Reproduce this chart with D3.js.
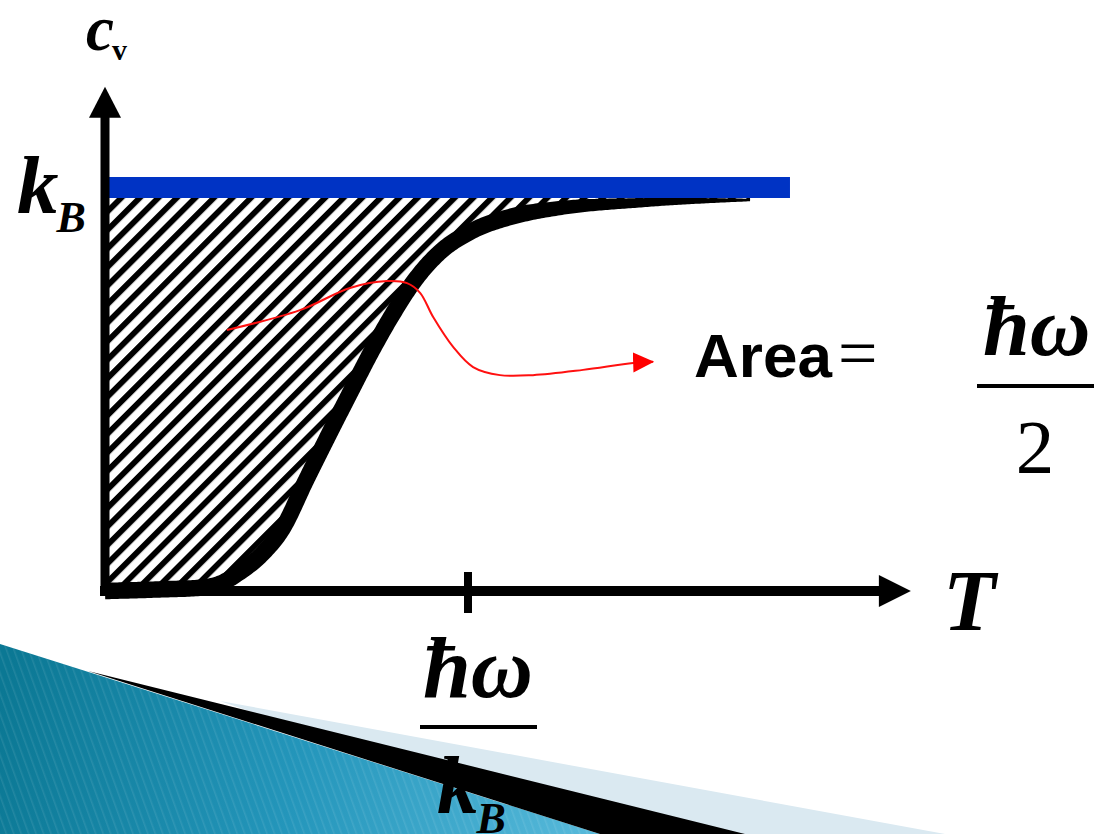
<!DOCTYPE html>
<html><head><meta charset="utf-8">
<script src="https://cdn.jsdelivr.net/npm/d3@7"></script>
<style>html,body{margin:0;padding:0;background:#fff;overflow:hidden}</style>
</head><body>
<svg id="chart" width="1094" height="834"></svg>
<script>
// Einstein heat capacity c_v(T); T in units of ħω/k_B, c_v in units of k_B
const temperature  = [0, 0.152, 0.262, 0.317, 0.370, 0.433, 0.488, 0.554, 0.620, 0.675, 0.736, 0.791, 0.854, 0.923, 1.006, 1.116, 1.253, 1.474, 1.777];
const heatCapacity = [0, 0.004, 0.008, 0.018, 0.046, 0.092, 0.153, 0.275, 0.394, 0.491, 0.597, 0.684, 0.771, 0.840, 0.890, 0.927, 0.949, 0.962, 0.969];

// classical (Dulong–Petit) level k_B and its extent along T
const classicalLevel = [1];
const classicalSpan = [0, 1.887];

// axis extents and ticks
const xAxisMax = 2.22;
const yAxisMax = 1.25;
const xTickValues = [1];

// pointer from the shaded area to its value
const pointerT  = [0.336, 0.537, 0.675, 0.777, 0.832, 0.868, 0.904, 0.959, 1.014, 1.088, 1.179, 1.317, 1.455, 1.510];
const pointerCv = [0.647, 0.696, 0.751, 0.768, 0.763, 0.739, 0.679, 0.605, 0.555, 0.535, 0.535, 0.548, 0.565, 0.568];

const svg = d3.select("#chart");
const x = d3.scaleLinear().domain([0, 1]).range([105, 468]);
const y = d3.scaleLinear().domain([0, 1]).range([591, 187.5]);

const defs = svg.append("defs");

// diagonal hatching for the area between c_v and k_B
const hatch = defs.append("pattern")
  .attr("id", "hatch").attr("patternUnits", "userSpaceOnUse")
  .attr("width", 13.1).attr("height", 13.1)
  .attr("patternTransform", "rotate(45)");
hatch.append("rect").attr("width", 13.1).attr("height", 13.1).attr("fill", "#fff");
hatch.append("rect").attr("x", 0).attr("width", 5.8).attr("height", 13.1).attr("fill", "#000");

// slide decoration: blue wedge at the bottom
const grad = defs.append("linearGradient").attr("id", "wedgeGrad")
  .attr("gradientUnits", "userSpaceOnUse").attr("x1", 0).attr("y1", 700).attr("x2", 600).attr("y2", 834);
grad.append("stop").attr("offset", 0).attr("stop-color", "#0b7894");
grad.append("stop").attr("offset", 0.5).attr("stop-color", "#2496bb");
grad.append("stop").attr("offset", 1).attr("stop-color", "#58badb");
const stripes = defs.append("pattern")
  .attr("id", "wedgeStripes").attr("patternUnits", "userSpaceOnUse")
  .attr("width", 7).attr("height", 7).attr("patternTransform", "rotate(-20)");
stripes.append("rect").attr("width", 1.5).attr("height", 7).attr("fill", "#ffffff").attr("opacity", 0.09);

const deco = svg.append("g");
deco.append("polygon").attr("points", "220,701 945,834 600,834").attr("fill", "#dae9f1");
deco.append("polygon").attr("points", "0,644 600,834 0,834").attr("fill", "url(#wedgeGrad)");
deco.append("polygon").attr("points", "0,644 600,834 0,834").attr("fill", "url(#wedgeStripes)");
deco.append("polygon").attr("points", "88,671 745,834 600,834").attr("fill", "#000");

const data = temperature.map((t, i) => ({ t, cv: heatCapacity[i] }));

// hatched region between the curve and the classical level
svg.append("path")
  .datum(data)
  .attr("fill", "url(#hatch)")
  .attr("d", d3.area()
    .x(d => x(d.t))
    .y0(y(classicalLevel[0]))
    .y1(d => y(d.cv))
    .curve(d3.curveMonotoneX));

// c_v curve drawn as a brush stroke that thins out toward high T
const centre = d3.line().x(d => x(d.t)).y(d => y(d.cv)).curve(d3.curveMonotoneX)(data);
const probe = svg.append("path").attr("d", centre).attr("fill", "none").attr("stroke", "none");
const node = probe.node();
const total = node.getTotalLength();
const N = 400;
const pts = d3.range(N + 1).map(i => node.getPointAtLength(total * i / N));
probe.remove();
const tEnd = temperature[temperature.length - 1];
const widthAt = t => t < 1.15 ? 16.5 : 16.5 - (t - 1.15) / (tEnd - 1.15) * 14;
const left = [], right = [];
pts.forEach((p, i) => {
  const a = pts[Math.max(0, i - 1)], b = pts[Math.min(N, i + 1)];
  let dx = b.x - a.x, dy = b.y - a.y;
  const len = Math.hypot(dx, dy) || 1;
  dx /= len; dy /= len;
  const w = widthAt(x.invert(p.x)) / 2;
  left.push([p.x - dy * w, p.y + dx * w]);
  right.push([p.x + dy * w, p.y - dx * w]);
});
svg.append("path")
  .attr("d", d3.line().curve(d3.curveLinearClosed)(left.concat(right.reverse())))
  .attr("fill", "#000");

// classical k_B level
svg.append("line")
  .attr("x1", x(classicalSpan[0])).attr("x2", x(classicalSpan[1]))
  .attr("y1", y(classicalLevel[0])).attr("y2", y(classicalLevel[0]))
  .attr("stroke", "#0033c4").attr("stroke-width", 21);

// axes with arrowheads
const axes = svg.append("g").attr("fill", "#000").attr("stroke", "#000");
axes.append("line")
  .attr("x1", x(0)).attr("x2", x(0))
  .attr("y1", y(0) + 4).attr("y2", y(yAxisMax) + 28)
  .attr("stroke-width", 9);
axes.append("polygon").attr("stroke", "none")
  .attr("points", [[x(0), y(yAxisMax)], [x(0) - 16, y(yAxisMax) + 31], [x(0) + 16, y(yAxisMax) + 31]].join(" "));
axes.append("line")
  .attr("x1", x(0) - 5).attr("x2", x(xAxisMax) - 30)
  .attr("y1", y(0)).attr("y2", y(0))
  .attr("stroke-width", 10);
axes.append("polygon").attr("stroke", "none")
  .attr("points", [[x(xAxisMax), y(0)], [x(xAxisMax) - 32, y(0) - 16], [x(xAxisMax) - 32, y(0) + 16]].join(" "));
axes.selectAll("line.tick").data(xTickValues).join("line")
  .attr("class", "tick")
  .attr("x1", d => x(d)).attr("x2", d => x(d))
  .attr("y1", y(0) - 19).attr("y2", y(0) + 22)
  .attr("stroke-width", 8);

// red pointer with arrowhead
defs.append("marker").attr("id", "redHead")
  .attr("markerUnits", "userSpaceOnUse").attr("markerWidth", 22).attr("markerHeight", 22)
  .attr("viewBox", "0 0 22 22").attr("refX", 20).attr("refY", 11).attr("orient", "auto")
  .append("path").attr("d", "M0,1 L21,11 L0,21 Z").attr("fill", "#ff0000");
const pointer = pointerT.map((t, i) => ({ t, cv: pointerCv[i] }));
svg.append("path")
  .datum(pointer)
  .attr("fill", "none").attr("stroke", "#ff1010").attr("stroke-width", 2)
  .attr("marker-end", "url(#redHead)")
  .attr("d", d3.line().x(d => x(d.t)).y(d => y(d.cv)).curve(d3.curveCatmullRom.alpha(0.5)));

// labels
const serif = "'Liberation Serif', 'Times New Roman', serif";
const math = (sel) => sel.attr("font-family", serif).attr("font-weight", "bold").attr("font-style", "italic").attr("fill", "#000");

// c_v axis title
const cv = svg.append("text").attr("x", 86).attr("y", 50).call(math).attr("font-size", 63);
cv.append("tspan").text("c");
cv.append("tspan").attr("font-size", 30).attr("font-style", "normal").attr("dx", -2).attr("dy", 10).text("v");

// k_B on the vertical axis
const kb = svg.append("text").attr("x", 17).attr("y", 213).call(math).attr("font-size", 83);
kb.append("tspan").text("k");
kb.append("tspan").attr("font-size", 44).attr("dx", -2).attr("dy", 19).text("B");

// T axis title
svg.append("text").attr("x", 943).attr("y", 630).call(math).attr("font-size", 86).text("T");

// tick label ħω / k_B
const tickLabel = svg.append("g").selectAll("g").data(xTickValues).join("g");
tickLabel.append("text").attr("x", d => x(d) + 10).attr("y", 697).attr("text-anchor", "middle")
  .call(math).attr("font-size", 86).text("ħω");
tickLabel.append("rect").attr("x", d => x(d) - 48).attr("y", 725).attr("width", 117).attr("height", 4).attr("fill", "#000");
const den = tickLabel.append("text").attr("x", d => x(d) - 31).attr("y", 813).call(math).attr("font-size", 83);
den.append("tspan").text("k");
den.append("tspan").attr("font-size", 44).attr("dx", -2).attr("dy", 20).text("B");

// Area = ħω / 2
const areaText = svg.append("text").attr("x", 694).attr("y", 377).attr("fill", "#000");
areaText.append("tspan").attr("font-family", "'Liberation Sans', Arial, sans-serif").attr("font-weight", "bold").attr("font-size", 62).text("Area");
areaText.append("tspan").attr("font-family", serif).attr("font-size", 70).attr("dx", 6).text("=");
svg.append("text").attr("x", 983).attr("y", 355).call(math).attr("font-size", 84).text("ħω");
svg.append("rect").attr("x", 977).attr("y", 384).attr("width", 130).attr("height", 4).attr("fill", "#000");
svg.append("text").attr("x", 1035).attr("y", 473).attr("text-anchor", "middle")
  .attr("font-family", serif).attr("font-size", 77).attr("fill", "#000").text("2");
</script>
</body></html>
